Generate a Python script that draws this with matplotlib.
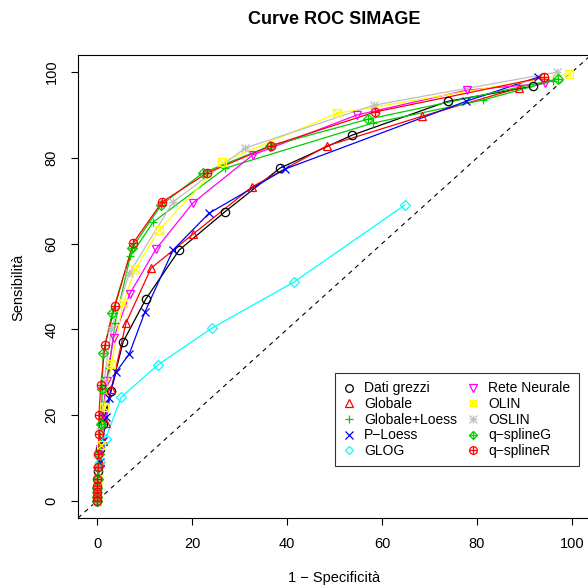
import matplotlib
matplotlib.use("Agg")
import matplotlib.pyplot as plt
from matplotlib.lines import Line2D
from matplotlib.legend_handler import HandlerTuple

plt.rcParams['font.family'] = ['Liberation Sans', 'DejaVu Sans']

# curve ROC: (1 - specificità, sensibilità) in %
nomi = ["Dati grezzi", "Globale", "Globale+Loess", "P\u2212Loess", "GLOG",
        "Rete Neurale", "OLIN", "OSLIN", "q\u2212splineG", "q\u2212splineR"]

fpr_grezzi = [0, 0.1, 0.3, 0.6, 1.2, 2.9, 5.5, 10.3, 17.3, 26.9, 38.5, 53.7, 73.9, 91.8]
tpr_grezzi = [0, 3, 7, 12, 18, 25.6, 37.1, 47.1, 58.5, 67.4, 77.6, 85.3, 93.2, 96.7]

fpr_globale = [0, 0.1, 0.3, 0.6, 1.2, 1.8, 3.0, 6.1, 11.4, 20.2, 32.6, 48.4, 68.4, 88.8]
tpr_globale = [0, 2, 5, 9, 14, 18.2, 26, 41.5, 54.3, 62.2, 73.2, 82.8, 89.7, 96.3]

fpr_gloess = [0, 0.1, 0.3, 0.6, 1.2, 2.5, 3.8, 7.0, 11.8, 27.0, 58.0, 81.3, 96.0]
tpr_gloess = [0, 2, 6, 12, 20, 31, 41.5, 57, 65.0, 77.6, 88.1, 93.5, 98.0]

fpr_ploess = [0, 0.1, 0.3, 0.7, 1.2, 1.9, 2.5, 4.0, 6.8, 10.1, 16.0, 23.6, 39.6, 77.7, 92.8]
tpr_ploess = [0, 2, 5, 9, 14, 19.6, 24, 30, 34.3, 44.1, 58.5, 67.1, 77.4, 93.2, 98.8]

fpr_glog = [0, 0.1, 0.3, 0.6, 1.8, 5.1, 12.8, 24.2, 41.4, 64.8]
tpr_glog = [0, 2, 5, 9, 14.5, 24.2, 31.7, 40.3, 51.0, 69.0]

fpr_rete = [0, 0.1, 0.3, 0.7, 1.2, 2.0, 3.5, 6.9, 12.4, 20.2, 32.8, 54.7, 77.9, 94.3]
tpr_rete = [0, 2, 5, 12, 20, 28, 38, 48.3, 58.7, 69.5, 80.7, 90.0, 95.8, 97.4]

fpr_olin = [0, 0.1, 0.3, 0.8, 1.5, 3.0, 5.5, 8.0, 13.1, 26.3, 50.5, 99.4]
tpr_olin = [0, 2, 5, 13, 22, 32, 46.2, 54, 63.2, 79.0, 90.4, 99.5]

fpr_oslin = [0, 0.1, 0.3, 0.7, 1.5, 3.0, 6.8, 16.0, 31.2, 58.3, 96.8]
tpr_oslin = [0, 3, 8, 17, 28, 40, 53.1, 69.7, 82.3, 92.3, 100]

fpr_qg = [0, 0.05, 0.1, 0.2, 0.3, 0.5, 0.8, 1.1, 1.3, 3.2, 7.4, 13.5, 22.3, 36.4, 57.0, 97.0]
tpr_qg = [0, 1, 3, 5, 8, 11, 18, 26.1, 34.5, 43.8, 59.0, 69.0, 76.5, 82.8, 89.0, 98.4]

fpr_qr = [0, 0, 0.05, 0.1, 0.1, 0.2, 0.3, 0.4, 0.4, 0.8, 1.7, 3.8, 7.6, 13.7, 23.2, 36.6, 58.5, 94.1]
tpr_qr = [0, 1, 2, 3.5, 5, 8, 11, 15.5, 20.0, 27.0, 36.4, 45.5, 60.1, 69.7, 76.5, 82.8, 90.7, 98.8]

serie_x = [fpr_grezzi, fpr_globale, fpr_gloess, fpr_ploess, fpr_glog,
           fpr_rete, fpr_olin, fpr_oslin, fpr_qg, fpr_qr]
serie_y = [tpr_grezzi, tpr_globale, tpr_gloess, tpr_ploess, tpr_glog,
           tpr_rete, tpr_olin, tpr_oslin, tpr_qg, tpr_qr]

colori = ["black", "red", "#00CD00", "blue", "cyan", "magenta",
          "yellow", "#BEBEBE", "#00CD00", "red"]
# pch 1..10 di R come combinazioni di marker
simboli = [["o"], ["^"], ["+"], ["x"], ["D"], ["v"], ["s", "x"],
           ["+", "x"], ["D", "+"], ["o", "+"]]

fig = plt.figure(figsize=(5.88, 5.86), dpi=100)
ax = fig.add_axes([78 / 588, 68 / 586, 513 / 588, 463 / 586])

ax.axline((0, 0), slope=1, color="black", linestyle=(0, (4, 4)), linewidth=0.8, zorder=1)

handles = []
for xs, ys, col, sym in zip(serie_x, serie_y, colori, simboli):
    ax.plot(xs, ys, color=col, linewidth=0.9, zorder=2)
    parti = []
    for m in sym:
        ms = 5 if m == "D" else 6
        if m == "s":
            ms = 5.5
        ax.plot(xs, ys, linestyle="none", marker=m, markersize=ms,
                markerfacecolor="none", markeredgecolor=col,
                markeredgewidth=0.9, zorder=3)
        parti.append(Line2D([], [], linestyle="none", marker=m, markersize=ms - 0.5,
                            markerfacecolor="none", markeredgecolor=col,
                            markeredgewidth=0.9))
    handles.append(tuple(parti))

ax.set_xlim(-4, 104)
ax.set_ylim(-4, 104)
ax.set_xticks([0, 20, 40, 60, 80, 100])
ax.set_yticks([0, 20, 40, 60, 80, 100])
ax.tick_params(direction="out", length=5, width=0.8, labelsize=10.5, pad=9)
for lab in ax.get_yticklabels():
    lab.set_rotation(90)
    lab.set_va("center")
for sp in ax.spines.values():
    sp.set_linewidth(0.8)

leg = ax.legend(handles, nomi, ncol=2, loc="upper left",
                bbox_to_anchor=(50.1, 29.8), bbox_transform=ax.transData,
                handler_map={tuple: HandlerTuple(ndivide=1)},
                fontsize=10, frameon=True, fancybox=False, edgecolor="black",
                handlelength=0.8, handletextpad=0.7, columnspacing=0.75,
                labelspacing=0.12, borderpad=0.6, borderaxespad=0)
leg.get_frame().set_linewidth(0.8)

fig.text(334.5 / 588, 1 - 20 / 586, "Curve ROC SIMAGE", ha="center", va="center",
         fontsize=13, fontweight="bold")
fig.text(334.5 / 588, 1 - 578 / 586, "1 \u2212 Specificità", ha="center", va="center",
         fontsize=10.5)
fig.text(18 / 588, 1 - 287 / 586, "Sensibilità", ha="center", va="center",
         fontsize=10.5, rotation=90)

fig.savefig("out.png", dpi=100)
